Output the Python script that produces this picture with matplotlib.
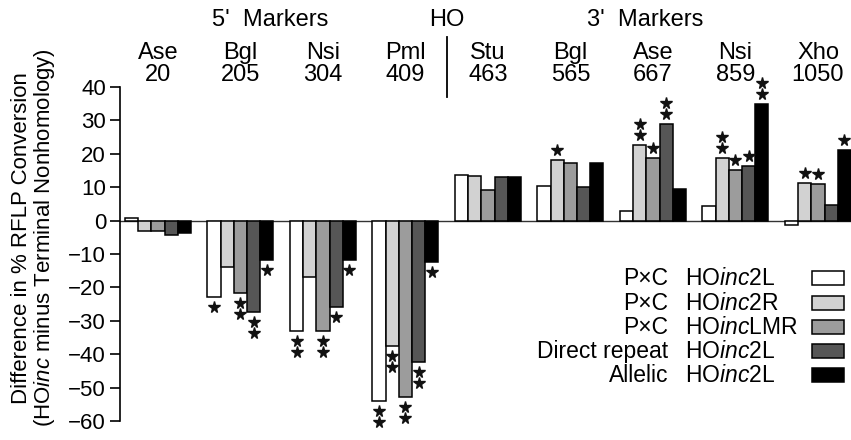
import matplotlib
matplotlib.use("Agg")
import matplotlib.pyplot as plt
from matplotlib.patches import Rectangle
from matplotlib.lines import Line2D
from matplotlib.transforms import offset_copy, blended_transform_factory
import numpy as np

plt.rcParams['font.family'] = ['Liberation Sans', 'DejaVu Sans']
plt.rcParams['mathtext.fontset'] = 'custom'
plt.rcParams['mathtext.rm'] = 'Liberation Sans'
plt.rcParams['mathtext.it'] = 'Liberation Sans:italic'

# marker sites
site_names = ["Ase", "Bgl", "Nsi", "Pml", "Stu", "Bgl", "Ase", "Nsi", "Xho"]
site_pos = ["20", "205", "304", "409", "463", "565", "667", "859", "1050"]

# series (percent difference), one value per site
pxc_2l = [0.8, -23.0, -33.0, -54.0, 13.6, 10.3, 2.8, 4.3, -1.2]
pxc_2r = [-3.0, -14.0, -17.0, -37.5, 13.3, 18.1, 22.7, 18.6, 11.4]
pxc_lmr = [-3.0, -21.7, -33.2, -52.9, 9.2, 17.1, 18.6, 15.1, 11.0]
direct_2l = [-4.4, -27.4, -25.9, -42.4, 13.0, 10.2, 29.0, 16.3, 4.7]
allelic_2l = [-3.8, -11.8, -11.8, -12.3, 13.0, 17.3, 9.6, 34.8, 21.0]

# significance stars per bar
stars_2l = [0, 1, 2, 2, 0, 0, 0, 0, 0]
stars_2r = [0, 0, 0, 2, 0, 1, 2, 2, 1]
stars_lmr = [0, 2, 2, 2, 0, 0, 1, 1, 1]
stars_dir = [0, 2, 1, 2, 0, 0, 2, 1, 0]
stars_all = [0, 1, 1, 1, 0, 0, 0, 2, 1]

legend_left = ["P\u00d7C", "P\u00d7C", "P\u00d7C", "Direct repeat", "Allelic"]
legend_right = ["HO$\\mathit{inc}$2L", "HO$\\mathit{inc}$2R", "HO$\\mathit{inc}$LMR",
                "HO$\\mathit{inc}$2L", "HO$\\mathit{inc}$2L"]

series = [pxc_2l, pxc_2r, pxc_lmr, direct_2l, allelic_2l]
stars = [stars_2l, stars_2r, stars_lmr, stars_dir, stars_all]
colors = ["white", "#d2d2d2", "#9c9c9c", "#565656", "black"]

W, H = 851, 440
fig = plt.figure(figsize=(W / 100, H / 100), dpi=100)
ax = fig.add_axes([120 / W, 1 - 421 / H, 1 - 120 / W, (421 - 87) / H])

bw = 0.16
x0 = np.arange(len(site_names))
for j, (vals, col) in enumerate(zip(series, colors)):
    xs = x0 + j * bw + bw / 2
    ax.bar(xs, vals, width=bw, color=col, edgecolor="black", linewidth=1.1, zorder=2)
    for x, v, n in zip(xs, vals, stars[j]):
        for k in range(n):
            dy = (10 + 11 * k) * (1 if v > 0 else -1)
            tr = offset_copy(ax.transData, fig=fig, x=0, y=dy, units='dots')
            ax.plot(x, v, marker='*', ms=8.5, color='#111111', ls='', transform=tr,
                    clip_on=False, zorder=3)

ax.axhline(0, color="#333333", lw=1.0, zorder=1)
ax.set_xlim(-0.06, 8.8)
ax.set_ylim(-60, 40)
ax.set_yticks(np.arange(-60, 41, 10))
ax.tick_params(axis='y', labelsize=16, length=7, width=1.2, pad=3)
ax.set_xticks([])
for s in ["top", "right", "bottom"]:
    ax.spines[s].set_visible(False)
ax.spines["left"].set_linewidth(1.2)

# header labels
tr = blended_transform_factory(ax.transData, fig.transFigure)
for i, (nm, ps) in enumerate(zip(site_names, site_pos)):
    xc = i + 2.5 * bw
    ax.text(xc, 1 - 53 / H, nm, transform=tr, ha='center', va='center', fontsize=17)
    ax.text(xc, 1 - 75 / H, ps, transform=tr, ha='center', va='center', fontsize=17)
fig.text(270 / W, 1 - 20 / H, "5'  Markers", ha='center', va='center', fontsize=17)
fig.text(447 / W, 1 - 20 / H, "HO", ha='center', va='center', fontsize=17)
fig.text(645 / W, 1 - 20 / H, "3'  Markers", ha='center', va='center', fontsize=17)
fig.add_artist(Line2D([447 / W, 447 / W], [1 - 37 / H, 1 - 97 / H], color='black',
                      lw=1.3, transform=fig.transFigure))

# y label (two lines)
fig.text(34 / W, 0.46,
         "Difference in % RFLP Conversion\n(HO$\\mathit{inc}$ minus Terminal Nonhomology)",
         rotation=90, ha='center', va='center', fontsize=16, linespacing=0.95,
         multialignment='center')

# legend
rows_y = [278, 303, 327, 351, 375]
for yl, lt, rt, col in zip(rows_y, legend_left, legend_right, colors):
    fig.text(668 / W, 1 - yl / H, lt, ha='right', va='center', fontsize=16.5)
    fig.text(685 / W, 1 - yl / H, rt, ha='left', va='center', fontsize=16.5)
    fig.add_artist(Rectangle((812 / W, 1 - (yl + 7) / H), 32 / W, 14 / H,
                             facecolor=col, edgecolor='black', lw=1.1,
                             transform=fig.transFigure))

fig.savefig("out.png", dpi=100)
